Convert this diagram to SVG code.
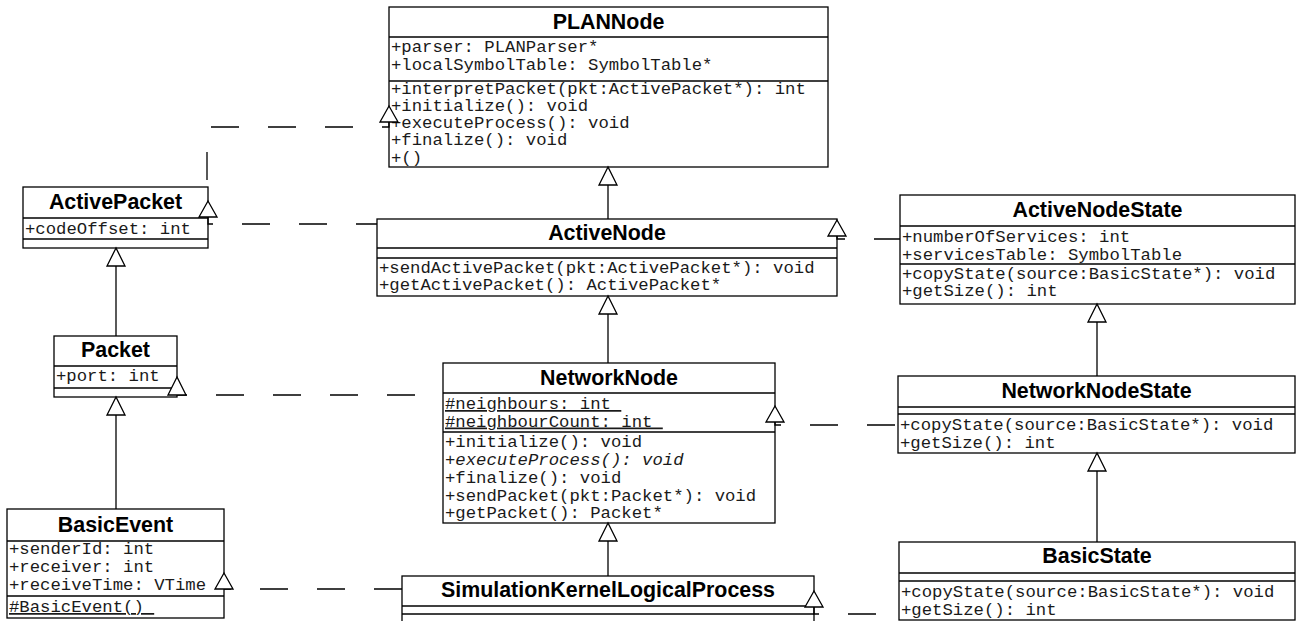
<svg xmlns="http://www.w3.org/2000/svg" xmlns:xlink="http://www.w3.org/1999/xlink" width="1297" height="621" viewBox="0 0 1297 621">
<style>
.box{fill:#fff;stroke:#000;stroke-width:1.3}
.sep{stroke:#000;stroke-width:1.3}
.title{font-family:"Liberation Sans",Arial,sans-serif;font-weight:bold;font-size:21.4px;text-anchor:middle;fill:#000}
.m{font-family:"Liberation Mono","Courier New",monospace;font-size:17.3px;fill:#1a1a1a}
.u{text-decoration:underline}
.i{font-style:italic}
.gen{fill:none;stroke:#000;stroke-width:1.3}
.dash{fill:none;stroke:#000;stroke-width:1.3;stroke-dasharray:28 29}
.tri{fill:#fff;stroke:#000;stroke-width:1.3}
</style>
<defs>
<path id="tri" d="M0,0 L-9,18 L9,18 Z"/>
<path id="tri2" d="M0,0 L-9,16 L9,16 Z"/>
</defs>
<rect width="1297" height="621" fill="#fff"/>

<g id="PLANNode">
<rect class="box" x="389" y="7" width="439" height="160"/>
<line class="sep" x1="389" y1="37" x2="828" y2="37"/>
<line class="sep" x1="389" y1="81" x2="828" y2="81"/>
<text class="title" x="608.5" y="29">PLANNode</text>
<text class="m" x="391" y="52">+parser: PLANParser*</text>
<text class="m" x="391" y="69.5">+localSymbolTable: SymbolTable*</text>
<text class="m" x="391" y="94">+interpretPacket(pkt:ActivePacket*): int</text>
<text class="m" x="391" y="111">+initialize(): void</text>
<text class="m" x="391" y="128">+executeProcess(): void</text>
<text class="m" x="391" y="145.2">+finalize(): void</text>
<text class="m" x="391" y="162.5">+()</text>
</g>

<g id="ActivePacket">
<rect class="box" x="23" y="187" width="185" height="61"/>
<line class="sep" x1="23" y1="218" x2="208" y2="218"/>
<line class="sep" x1="23" y1="239" x2="208" y2="239"/>
<text class="title" x="115.5" y="209">ActivePacket</text>
<text class="m" x="25" y="233.5">+codeOffset: int</text>
</g>

<g id="ActiveNode">
<rect class="box" x="377" y="219" width="460" height="77"/>
<line class="sep" x1="377" y1="248" x2="837" y2="248"/>
<line class="sep" x1="377" y1="258" x2="837" y2="258"/>
<text class="title" x="607" y="240">ActiveNode</text>
<text class="m" x="379" y="272.5">+sendActivePacket(pkt:ActivePacket*): void</text>
<text class="m" x="379" y="290">+getActivePacket(): ActivePacket*</text>
</g>

<g id="ActiveNodeState">
<rect class="box" x="900" y="195" width="395" height="109"/>
<line class="sep" x1="900" y1="226" x2="1295" y2="226"/>
<line class="sep" x1="900" y1="264" x2="1295" y2="264"/>
<text class="title" x="1097.5" y="217">ActiveNodeState</text>
<text class="m" x="902" y="242">+numberOfServices: int</text>
<text class="m" x="902" y="259.5">+servicesTable: SymbolTable</text>
<text class="m" x="902" y="278.5">+copyState(source:BasicState*): void</text>
<text class="m" x="902" y="296">+getSize(): int</text>
</g>

<g id="Packet">
<rect class="box" x="54" y="336" width="123" height="61"/>
<line class="sep" x1="54" y1="366" x2="177" y2="366"/>
<line class="sep" x1="54" y1="388" x2="177" y2="388"/>
<text class="title" x="115.5" y="357">Packet</text>
<text class="m" x="56" y="381">+port: int</text>
</g>

<g id="NetworkNode">
<rect class="box" x="443" y="363" width="332" height="160"/>
<line class="sep" x1="443" y1="393" x2="775" y2="393"/>
<line class="sep" x1="443" y1="432" x2="775" y2="432"/>
<text class="title" x="609" y="385">NetworkNode</text>
<text class="m u" x="445" y="409" xml:space="preserve">#neighbours: int </text>
<text class="m u" x="445" y="426.5" xml:space="preserve">#neighbourCount: int </text>
<text class="m" x="445" y="447">+initialize(): void</text>
<text class="m i" x="445" y="464.5">+executeProcess(): void</text>
<text class="m" x="445" y="482.5">+finalize(): void</text>
<text class="m" x="445" y="500.5">+sendPacket(pkt:Packet*): void</text>
<text class="m" x="445" y="518">+getPacket(): Packet*</text>
</g>

<g id="NetworkNodeState">
<rect class="box" x="898" y="376" width="397" height="77"/>
<line class="sep" x1="898" y1="407" x2="1295" y2="407"/>
<line class="sep" x1="898" y1="414" x2="1295" y2="414"/>
<text class="title" x="1096.5" y="398">NetworkNodeState</text>
<text class="m" x="900" y="430">+copyState(source:BasicState*): void</text>
<text class="m" x="900" y="447.5">+getSize(): int</text>
</g>

<g id="BasicEvent">
<rect class="box" x="7" y="509" width="217" height="109"/>
<line class="sep" x1="7" y1="541" x2="224" y2="541"/>
<line class="sep" x1="7" y1="596" x2="224" y2="596"/>
<text class="title" x="115.5" y="532">BasicEvent</text>
<text class="m" x="9" y="554">+senderId: int</text>
<text class="m" x="9" y="572">+receiver: int</text>
<text class="m" x="9" y="590">+receiveTime: VTime</text>
<text class="m u" x="9" y="612" xml:space="preserve">#BasicEvent() </text>
</g>

<g id="SimulationKernelLogicalProcess">
<rect class="box" x="402" y="576" width="412" height="55"/>
<line class="sep" x1="402" y1="606" x2="814" y2="606"/>
<line class="sep" x1="402" y1="614" x2="814" y2="614"/>
<text class="title" x="608" y="597">SimulationKernelLogicalProcess</text>
</g>

<g id="BasicState">
<rect class="box" x="899" y="542" width="396" height="78"/>
<line class="sep" x1="899" y1="573" x2="1295" y2="573"/>
<line class="sep" x1="899" y1="581" x2="1295" y2="581"/>
<text class="title" x="1097" y="563">BasicState</text>
<text class="m" x="901" y="597">+copyState(source:BasicState*): void</text>
<text class="m" x="901" y="614.5">+getSize(): int</text>
</g>

<g id="connectors">
<path class="gen" d="M608,219 V185"/>
<path class="gen" d="M608,363 V314"/>
<path class="gen" d="M608,576 V541"/>
<path class="gen" d="M116,336 V266"/>
<path class="gen" d="M116,509 V415"/>
<path class="gen" d="M1097,376 V322"/>
<path class="gen" d="M1097,542 V471"/>
<use class="tri" xlink:href="#tri" x="608" y="167"/>
<use class="tri" xlink:href="#tri" x="608" y="296"/>
<use class="tri" xlink:href="#tri" x="608" y="523"/>
<use class="tri" xlink:href="#tri" x="116" y="248"/>
<use class="tri" xlink:href="#tri" x="116" y="397"/>
<use class="tri" xlink:href="#tri" x="1097" y="304"/>
<use class="tri" xlink:href="#tri" x="1097" y="453"/>

<path class="dash" style="stroke-dashoffset:16" d="M208,217 V224 H377"/>
<path class="dash" style="stroke-dashoffset:16" d="M389,122 V127 H207 V187"/>
<path class="dash" style="stroke-dashoffset:18" d="M177,395 H443"/>
<path class="dash" style="stroke-dashoffset:17" d="M837,236 V239 H900"/>
<path class="dash" style="stroke-dashoffset:19" d="M775,422 V425 H898"/>
<path class="dash" style="stroke-dashoffset:21" d="M224,589 H402"/>
<path class="dash" style="stroke-dashoffset:16" d="M814,607 V614 H899"/>
<use class="tri" xlink:href="#tri2" x="208" y="201"/>
<use class="tri" xlink:href="#tri2" x="389" y="106"/>
<use class="tri" xlink:href="#tri" x="177" y="377"/>
<use class="tri" xlink:href="#tri2" x="837" y="220"/>
<use class="tri" xlink:href="#tri2" x="775" y="406"/>
<use class="tri" xlink:href="#tri2" x="224" y="573"/>
<use class="tri" xlink:href="#tri2" x="814" y="591"/>
</g>
</svg>
